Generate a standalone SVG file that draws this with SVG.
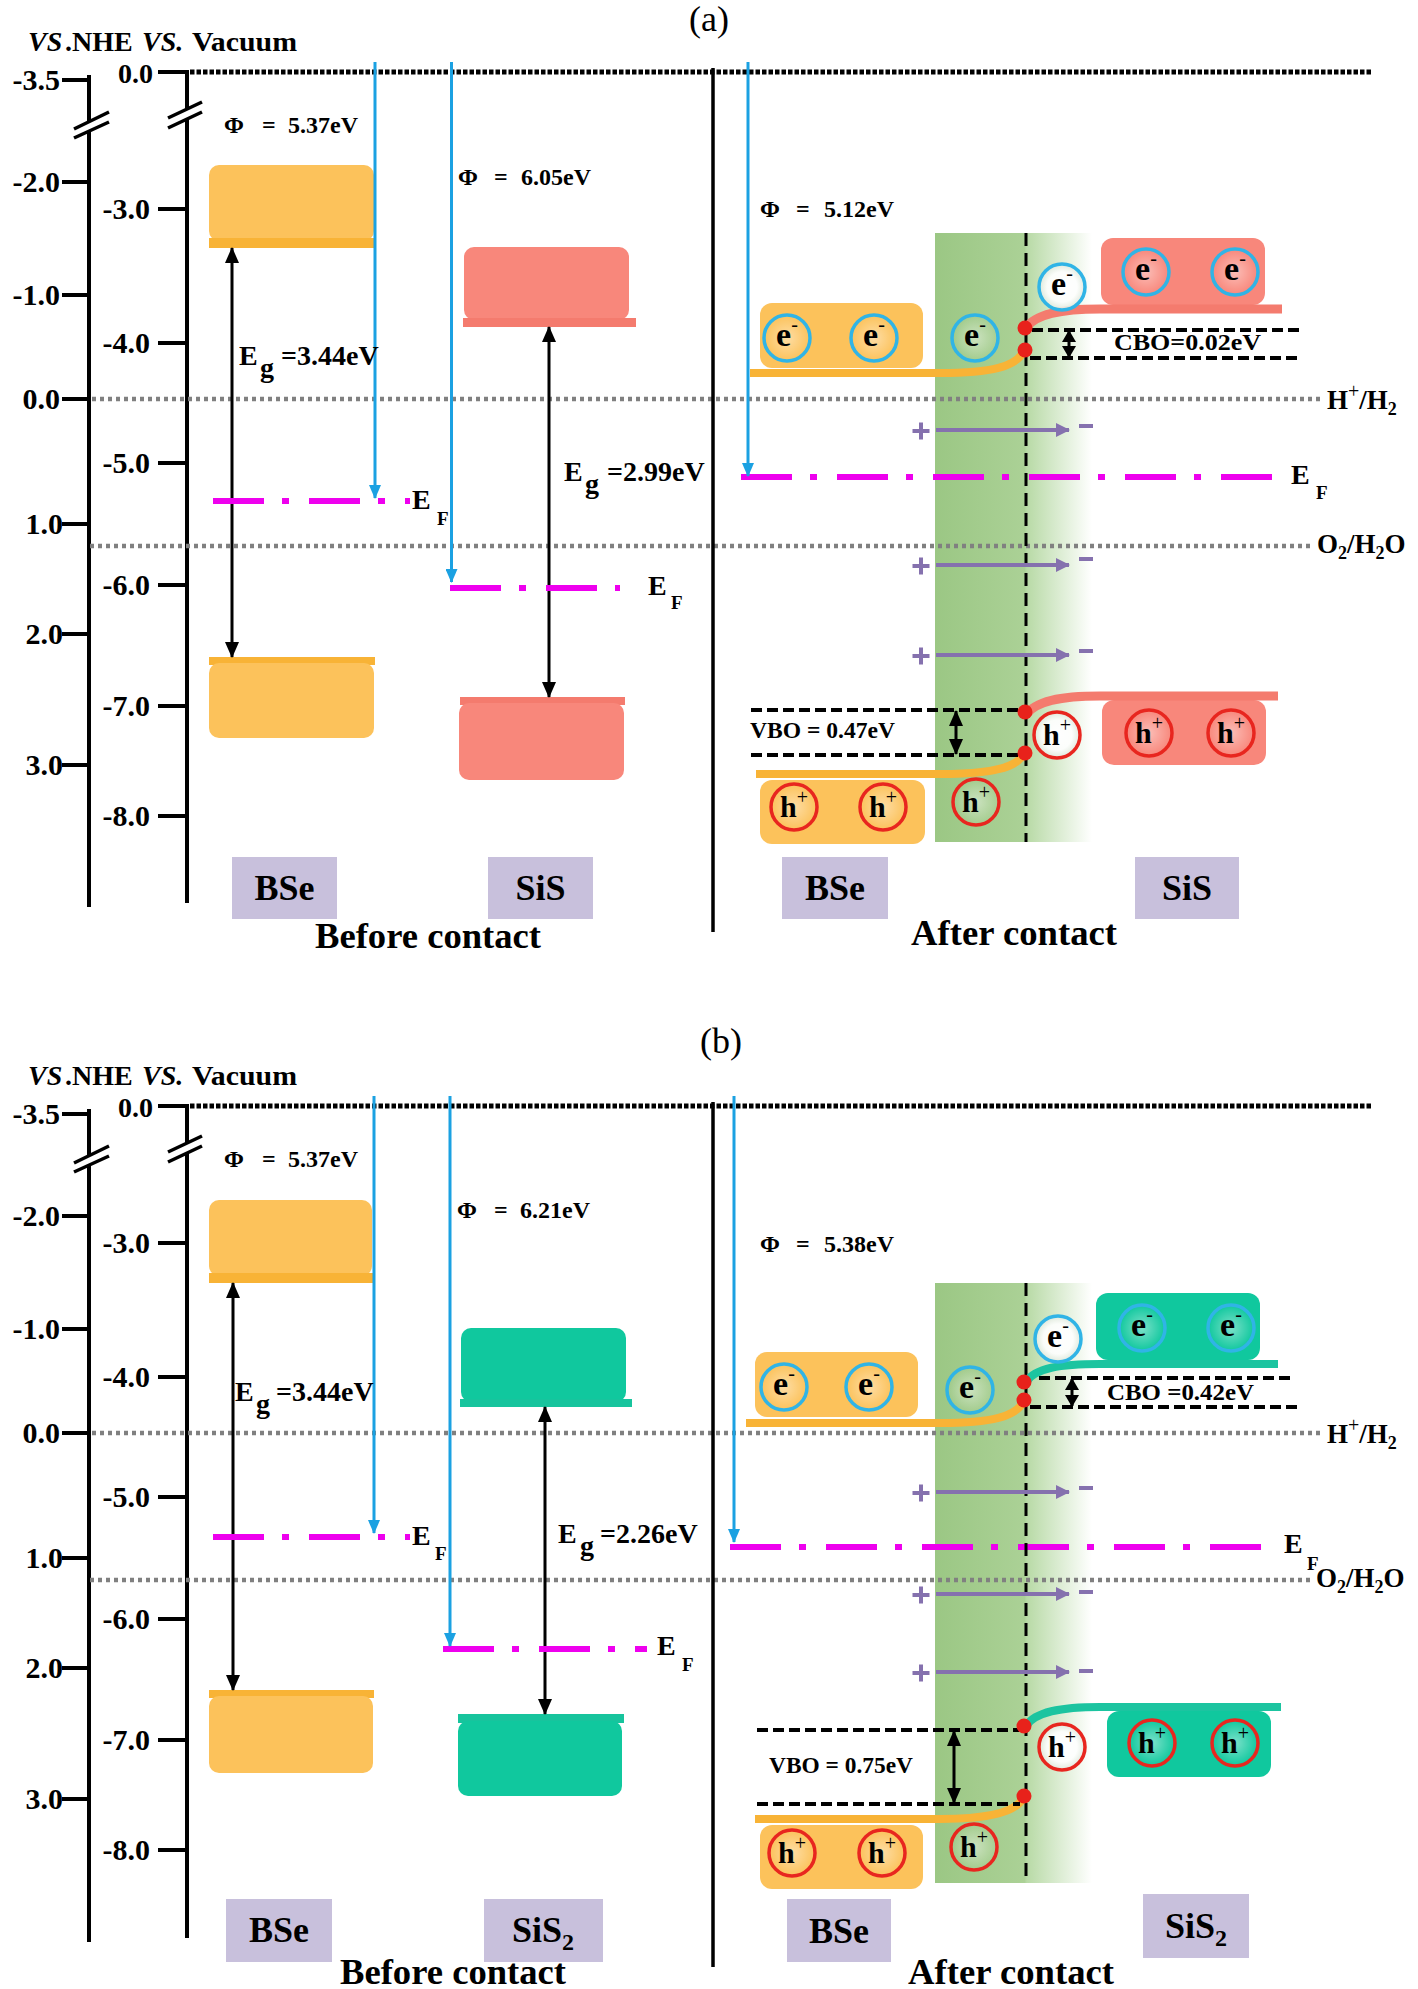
<svg xmlns="http://www.w3.org/2000/svg" width="1418" height="1989" viewBox="0 0 1418 1989">
<defs>
<style>
text{font-family:"Liberation Serif","Times New Roman",serif;font-weight:bold;fill:#000}
.ax{stroke:#000;stroke-width:4;fill:none}
.brk{stroke:#000;stroke-width:3.5}
.vac{stroke:#000;stroke-width:5;stroke-dasharray:4.5 2;fill:none}
.rdx{stroke:#808080;stroke-width:4.5;stroke-dasharray:4 4;fill:none}
.ef{stroke:#EE00EE;stroke-width:6;stroke-dasharray:51 18 7 20;fill:none}
.wf{stroke:#1BA1E2;stroke-width:3;fill:none;marker-end:url(#mBlue)}
.eg{stroke:#000;stroke-width:3;fill:none;marker-start:url(#mBlk);marker-end:url(#mBlk)}
.sm{stroke:#000;stroke-width:3;fill:none;marker-start:url(#mSm);marker-end:url(#mSm)}
.off{stroke:#000;stroke-width:4;stroke-dasharray:11 5;fill:none}
.ifc{stroke:#000;stroke-width:3;stroke-dasharray:13 7;fill:none}
.sep{stroke:#000;stroke-width:3.5;fill:none}
.fld{stroke:#8571AE;stroke-width:4;fill:none;marker-end:url(#mPur)}
.pm{stroke:#8571AE;stroke-width:4;fill:none}
.ob{fill:#FCC25B}.obar{fill:#F8B336}
.sb{fill:#F8877B}.sbar{fill:#F47B6E}
.tb{fill:#10C89E}.tbar{fill:#17C49D}
.oln{stroke:#F8B336;stroke-width:8;fill:none}
.sln{stroke:#F47B6E;stroke-width:9;fill:none}
.tln{stroke:#1CC4A0;stroke-width:8;fill:none}
.lab{fill:#C8C0DC}
.el{stroke:#30B4E6;stroke-width:3.5}
.ho{stroke:#E8261F;stroke-width:3.5}
.dot{fill:#E8221B}
.tk{font-size:30px;text-anchor:end}
.tk0{font-size:28px;text-anchor:end}
.hd{font-size:28px}
.it{font-style:italic}
.phi{font-size:24px}
.big{font-size:36px;text-anchor:middle}
.cap{font-size:35px}
.ct{font-size:34px;text-anchor:middle}
.ht{font-size:30px;text-anchor:middle}
.sup{font-size:20px;font-weight:normal}
.E{font-size:28px}
.sub{font-size:19px}
.offt{font-size:23px}
.rx{font-size:27px}
.pl{font-size:36px;font-weight:normal;text-anchor:middle}
</style>
<marker id="mBlk" viewBox="0 0 16 14" refX="15" refY="7" markerWidth="16" markerHeight="14" orient="auto-start-reverse" markerUnits="userSpaceOnUse"><path d="M0,0 L16,7 L0,14 Z" fill="#000"/></marker>
<marker id="mSm" viewBox="0 0 12 14" refX="11" refY="7" markerWidth="12" markerHeight="14" orient="auto-start-reverse" markerUnits="userSpaceOnUse"><path d="M0,0 L12,7 L0,14 Z" fill="#000"/></marker>
<marker id="mBlue" viewBox="0 0 14 12" refX="13" refY="6" markerWidth="14" markerHeight="12" orient="auto" markerUnits="userSpaceOnUse"><path d="M0,0 L14,6 L0,12 Z" fill="#1BA1E2"/></marker>
<marker id="mPur" viewBox="0 0 14 14" refX="13" refY="7" markerWidth="14" markerHeight="14" orient="auto" markerUnits="userSpaceOnUse"><path d="M0,0 L14,7 L0,14 Z" fill="#8571AE"/></marker>
<radialGradient id="gw"><stop offset="0" stop-color="#fff" stop-opacity="0.45"/><stop offset="1" stop-color="#fff" stop-opacity="0"/></radialGradient>
<radialGradient id="gs"><stop offset="0" stop-color="#fff" stop-opacity="1"/><stop offset="0.65" stop-color="#fff" stop-opacity="0.9"/><stop offset="1" stop-color="#dfe8dc" stop-opacity="0.9"/></radialGradient>
<linearGradient id="gbandA" gradientUnits="userSpaceOnUse" x1="935" y1="0" x2="1092" y2="0"><stop offset="0" stop-color="#9BC784"/><stop offset="0.57" stop-color="#ABD196"/><stop offset="0.585" stop-color="#B8DAA6"/><stop offset="1" stop-color="#FFFFFF"/></linearGradient>
</defs>
<rect width="1418" height="1989" fill="#fff"/>

<!-- ================= PANEL (a) ================= -->
<g id="a-after-bg">
<rect x="935" y="233" width="157" height="609" fill="url(#gbandA)"/>
</g>
<text class="pl" x="709" y="31">(a)</text>
<g id="a-scale">
<text class="hd it" x="28" y="51">VS</text><text class="hd" x="65" y="51">.NHE</text><text class="hd it" x="142" y="51">VS.</text><text class="hd" x="192" y="51" textLength="105" lengthAdjust="spacingAndGlyphs">Vacuum</text>
<line class="ax" x1="89" y1="75" x2="89" y2="907"/>
<path class="ax" d="M62,80H89M62,182H89M62,295H89M62,399H89M62,524H89M62,634H89M62,765H89"/>
<polygon points="72,130 110,112 110,122 72,140" fill="#fff"/>
<line class="brk" x1="74" y1="129" x2="109" y2="112"/>
<line class="brk" x1="74" y1="138" x2="109" y2="122"/>
<text class="tk" x="60" y="90">-3.5</text>
<text class="tk" x="60" y="192">-2.0</text>
<text class="tk" x="60" y="305">-1.0</text>
<text class="tk" x="60" y="409">0.0</text>
<text class="tk" x="63" y="534">1.0</text>
<text class="tk" x="63" y="644">2.0</text>
<text class="tk" x="63" y="775">3.0</text>
<line class="ax" x1="187" y1="70" x2="187" y2="903"/>
<path class="ax" d="M158,72H187M158,209H187M158,343H187M158,463H187M158,585H187M158,706H187M158,816H187"/>
<polygon points="166,119 203,101 203,111 166,129" fill="#fff"/>
<line class="brk" x1="168" y1="118" x2="202" y2="102"/>
<line class="brk" x1="168" y1="128" x2="202" y2="112"/>
<text class="tk0" x="153" y="83">0.0</text>
<text class="tk" x="150" y="219">-3.0</text>
<text class="tk" x="150" y="353">-4.0</text>
<text class="tk" x="150" y="473">-5.0</text>
<text class="tk" x="150" y="595">-6.0</text>
<text class="tk" x="150" y="716">-7.0</text>
<text class="tk" x="150" y="826">-8.0</text>
<line class="vac" x1="190" y1="72" x2="1373" y2="72"/>
<line class="rdx" x1="92" y1="399" x2="1320" y2="399"/>
<line class="rdx" x1="90" y1="546" x2="1314" y2="546"/>
<text class="rx" x="1327" y="409">H<tspan class="sup" font-size="18" dy="-11">+</tspan><tspan dy="11">/H</tspan><tspan font-size="18" dy="6">2</tspan></text>
<text class="rx" x="1317" y="553" font-size="28">O<tspan font-size="18" dy="6">2</tspan><tspan dy="-6">/H</tspan><tspan font-size="18" dy="6">2</tspan><tspan dy="-6">O</tspan></text>
<line class="sep" x1="713" y1="68" x2="713" y2="932"/>
</g>

<g id="a-bse-before">
<rect class="ob" x="209" y="165" width="165" height="76" rx="10"/>
<rect class="obar" x="209" y="238" width="166" height="10"/>
<rect class="obar" x="209" y="657" width="166" height="8"/>
<rect class="ob" x="209" y="663" width="165" height="75" rx="10"/>
<rect class="lab" x="232" y="857" width="105" height="62"/>
<text class="big" x="284.5" y="900">BSe</text>
</g>
<g id="a-sis-before">
<rect class="sb" x="464" y="247" width="165" height="73" rx="10"/>
<rect class="sbar" x="463" y="318" width="173" height="9"/>
<rect class="sbar" x="460" y="697" width="165" height="8"/>
<rect class="sb" x="459" y="703" width="165" height="77" rx="10"/>
<rect class="lab" x="488" y="857" width="105" height="62"/>
<text class="big" x="540.5" y="900">SiS</text>
</g>
<text class="cap" x="315" y="948" textLength="226" lengthAdjust="spacingAndGlyphs">Before contact</text>

<g id="a-bse-after">
<rect class="ob" x="760" y="303" width="163" height="65" rx="12"/>
<rect class="ob" x="760" y="780" width="165" height="64" rx="12"/>
<rect class="lab" x="782" y="857" width="106" height="62"/>
<text class="big" x="835" y="900">BSe</text>
</g>
<g id="a-sis-after">
<rect class="sb" x="1101" y="238" width="164" height="67" rx="12"/>
<rect class="sb" x="1102" y="700" width="164" height="65" rx="12"/>
<rect class="lab" x="1135" y="857" width="104" height="62"/>
<text class="big" x="1187" y="900">SiS</text>
</g>
<text class="cap" x="911" y="945" textLength="206" lengthAdjust="spacingAndGlyphs">After contact</text>

<g id="a-connectors">
<line class="eg" x1="232" y1="248" x2="232" y2="657"/>
<line class="eg" x1="549" y1="327" x2="549" y2="697"/>
<line class="ef" x1="213" y1="501" x2="410" y2="501"/>
<line class="ef" x1="450" y1="588" x2="620" y2="588"/>
<line class="ef" x1="741" y1="477" x2="1285" y2="477"/>
<line class="wf" x1="375" y1="62" x2="375" y2="498"/>
<line class="wf" x1="451.5" y1="62" x2="451.5" y2="582"/>
<line class="wf" x1="748" y1="62" x2="748" y2="476"/>
<line class="ifc" x1="1026" y1="233" x2="1026" y2="842"/>
<path class="oln" d="M750,373 L940,373 C990,373 1018,367 1024,350"/>
<path class="sln" d="M1026,328 C1035,314 1060,309 1100,309 L1282,309"/>
<path class="sln" d="M1026,715 C1035,701 1060,696 1100,696 L1278,696"/>
<path class="oln" d="M756,774 L940,774 C990,774 1018,768 1024,753"/>
<line class="off" x1="1032" y1="330" x2="1300" y2="330"/>
<line class="off" x1="1030" y1="358" x2="1300" y2="358"/>
<line class="sm" x1="1069" y1="331" x2="1069" y2="357"/>
<line class="off" x1="751" y1="710" x2="1020" y2="710"/>
<line class="off" x1="751" y1="755" x2="1020" y2="755"/>
<line class="eg" x1="956" y1="711" x2="956" y2="754"/>
<path class="pm" d="M912.5,431H929.5M921,422.5V439.5"/>
<line class="fld" x1="936" y1="430" x2="1069" y2="430"/>
<path class="pm" d="M1079,426H1093"/>
<path class="pm" d="M912.5,566H929.5M921,557.5V574.5"/>
<line class="fld" x1="936" y1="565" x2="1069" y2="565"/>
<path class="pm" d="M1079,559H1093"/>
<path class="pm" d="M912.5,656H929.5M921,647.5V664.5"/>
<line class="fld" x1="936" y1="655" x2="1069" y2="655"/>
<path class="pm" d="M1079,651H1093"/>
<circle class="dot" cx="1025" cy="328" r="7.5"/>
<circle class="dot" cx="1025" cy="350" r="7.5"/>
<circle class="dot" cx="1025" cy="712" r="7.5"/>
<circle class="dot" cx="1025" cy="753" r="7.5"/>
</g>

<g id="a-carriers">
<circle class="el" cx="787" cy="338" r="23" fill="url(#gw)"/><text class="ct" x="787" y="346">e<tspan class="sup" dy="-15">-</tspan></text>
<circle class="el" cx="874" cy="338" r="23" fill="url(#gw)"/><text class="ct" x="874" y="346">e<tspan class="sup" dy="-15">-</tspan></text>
<circle class="el" cx="975" cy="338" r="23" fill="url(#gw)"/><text class="ct" x="975" y="346">e<tspan class="sup" dy="-15">-</tspan></text>
<circle class="el" cx="1062" cy="287" r="23" fill="url(#gs)"/><text class="ct" x="1062" y="295">e<tspan class="sup" dy="-15">-</tspan></text>
<circle class="el" cx="1146" cy="272" r="23" fill="url(#gw)"/><text class="ct" x="1146" y="280">e<tspan class="sup" dy="-15">-</tspan></text>
<circle class="el" cx="1235" cy="272" r="23" fill="url(#gw)"/><text class="ct" x="1235" y="280">e<tspan class="sup" dy="-15">-</tspan></text>
<circle class="ho" cx="794" cy="807" r="23" fill="url(#gw)"/><text class="ht" x="794" y="817">h<tspan class="sup" dy="-13">+</tspan></text>
<circle class="ho" cx="883" cy="807" r="23" fill="url(#gw)"/><text class="ht" x="883" y="817">h<tspan class="sup" dy="-13">+</tspan></text>
<circle class="ho" cx="976" cy="802" r="23" fill="url(#gw)"/><text class="ht" x="976" y="812">h<tspan class="sup" dy="-13">+</tspan></text>
<circle class="ho" cx="1057" cy="735" r="23" fill="url(#gs)"/><text class="ht" x="1057" y="745">h<tspan class="sup" dy="-13">+</tspan></text>
<circle class="ho" cx="1149" cy="733" r="23" fill="url(#gw)"/><text class="ht" x="1149" y="743">h<tspan class="sup" dy="-13">+</tspan></text>
<circle class="ho" cx="1231" cy="733" r="23" fill="url(#gw)"/><text class="ht" x="1231" y="743">h<tspan class="sup" dy="-13">+</tspan></text>
</g>

<g id="a-labels">
<text class="phi" y="133"><tspan x="224">Φ</tspan><tspan x="262">=</tspan><tspan x="288">5.37eV</tspan></text>
<text class="phi" y="185"><tspan x="458">Φ</tspan><tspan x="494">=</tspan><tspan x="521">6.05eV</tspan></text>
<text class="phi" y="217"><tspan x="760">Φ</tspan><tspan x="796">=</tspan><tspan x="824">5.12eV</tspan></text>
<text class="E" x="239" y="365">E</text><text class="E" x="260" y="377" font-size="24">g</text><text class="E" x="281" y="365" font-size="27">=3.44eV</text>
<text class="E" x="564" y="481">E</text><text class="E" x="585" y="493" font-size="24">g</text><text class="E" x="607" y="481" font-size="27">=2.99eV</text>
<text class="E" x="412" y="509">E</text><text class="sub" x="437" y="525">F</text>
<text class="E" x="648" y="595">E</text><text class="sub" x="671" y="609">F</text>
<text class="E" x="1291" y="484">E</text><text class="sub" x="1316" y="499">F</text>
<text class="offt" x="1114" y="350" textLength="147" lengthAdjust="spacingAndGlyphs">CBO=0.02eV</text>
<text class="offt" x="750" y="738" textLength="145" lengthAdjust="spacingAndGlyphs">VBO = 0.47eV</text>
</g>

<!-- ================= PANEL (b) ================= -->
<g id="b-after-bg">
<rect x="935" y="1283" width="157" height="600" fill="url(#gbandA)"/>
</g>
<text class="pl" x="721" y="1053">(b)</text>
<g id="b-scale" transform="translate(0,1034)">
<text class="hd it" x="28" y="51">VS</text><text class="hd" x="65" y="51">.NHE</text><text class="hd it" x="142" y="51">VS.</text><text class="hd" x="192" y="51" textLength="105" lengthAdjust="spacingAndGlyphs">Vacuum</text>
<line class="ax" x1="89" y1="75" x2="89" y2="908"/>
<path class="ax" d="M62,80H89M62,182H89M62,295H89M62,399H89M62,524H89M62,634H89M62,765H89"/>
<polygon points="72,130 110,112 110,122 72,140" fill="#fff"/>
<line class="brk" x1="74" y1="129" x2="109" y2="112"/>
<line class="brk" x1="74" y1="138" x2="109" y2="122"/>
<text class="tk" x="60" y="90">-3.5</text>
<text class="tk" x="60" y="192">-2.0</text>
<text class="tk" x="60" y="305">-1.0</text>
<text class="tk" x="60" y="409">0.0</text>
<text class="tk" x="63" y="534">1.0</text>
<text class="tk" x="63" y="644">2.0</text>
<text class="tk" x="63" y="775">3.0</text>
<line class="ax" x1="187" y1="70" x2="187" y2="904"/>
<path class="ax" d="M158,72H187M158,209H187M158,343H187M158,463H187M158,585H187M158,706H187M158,816H187"/>
<polygon points="166,119 203,101 203,111 166,129" fill="#fff"/>
<line class="brk" x1="168" y1="118" x2="202" y2="102"/>
<line class="brk" x1="168" y1="128" x2="202" y2="112"/>
<text class="tk0" x="153" y="83">0.0</text>
<text class="tk" x="150" y="219">-3.0</text>
<text class="tk" x="150" y="353">-4.0</text>
<text class="tk" x="150" y="473">-5.0</text>
<text class="tk" x="150" y="595">-6.0</text>
<text class="tk" x="150" y="716">-7.0</text>
<text class="tk" x="150" y="826">-8.0</text>
<line class="vac" x1="190" y1="72" x2="1373" y2="72"/>
<line class="rdx" x1="92" y1="399" x2="1320" y2="399"/>
<line class="rdx" x1="90" y1="546" x2="1314" y2="546"/>
<text class="rx" x="1327" y="409">H<tspan class="sup" font-size="18" dy="-11">+</tspan><tspan dy="11">/H</tspan><tspan font-size="18" dy="6">2</tspan></text>
<text class="rx" x="1316" y="553" font-size="28">O<tspan font-size="18" dy="6">2</tspan><tspan dy="-6">/H</tspan><tspan font-size="18" dy="6">2</tspan><tspan dy="-6">O</tspan></text>
<line class="sep" x1="713" y1="68" x2="713" y2="933"/>
</g>

<g id="b-bse-before">
<rect class="ob" x="209" y="1200" width="163" height="76" rx="10"/>
<rect class="obar" x="209" y="1273" width="164" height="10"/>
<rect class="obar" x="209" y="1690" width="165" height="8"/>
<rect class="ob" x="209" y="1696" width="164" height="77" rx="10"/>
<rect class="lab" x="226" y="1899" width="106" height="63"/>
<text class="big" x="279" y="1942">BSe</text>
</g>
<g id="b-sis2-before">
<rect class="tb" x="461" y="1328" width="165" height="74" rx="10"/>
<rect class="tbar" x="460" y="1399" width="172" height="8"/>
<rect class="tbar" x="458" y="1714" width="166" height="9"/>
<rect class="tb" x="458" y="1721" width="164" height="75" rx="10"/>
<rect class="lab" x="484" y="1899" width="119" height="63"/>
<text class="big" x="543" y="1942">SiS<tspan font-size="24" dy="8">2</tspan></text>
</g>
<text class="cap" x="340" y="1984" textLength="226" lengthAdjust="spacingAndGlyphs">Before contact</text>

<g id="b-bse-after">
<rect class="ob" x="755" y="1352" width="163" height="65" rx="12"/>
<rect class="ob" x="760" y="1825" width="163" height="64" rx="12"/>
<rect class="lab" x="787" y="1899" width="104" height="63"/>
<text class="big" x="839" y="1943">BSe</text>
</g>
<g id="b-sis2-after">
<rect class="tb" x="1096" y="1293" width="164" height="67" rx="12"/>
<rect class="tb" x="1107" y="1711" width="164" height="66" rx="12"/>
<rect class="lab" x="1143" y="1894" width="106" height="64"/>
<text class="big" x="1196" y="1938">SiS<tspan font-size="24" dy="8">2</tspan></text>
</g>
<text class="cap" x="908" y="1984" textLength="206" lengthAdjust="spacingAndGlyphs">After contact</text>

<g id="b-connectors">
<line class="eg" x1="233" y1="1283" x2="233" y2="1690"/>
<line class="eg" x1="545" y1="1407" x2="545" y2="1714"/>
<line class="ef" x1="213" y1="1537" x2="410" y2="1537"/>
<line class="ef" x1="443" y1="1649" x2="647" y2="1649"/>
<line class="ef" x1="730" y1="1547" x2="1275" y2="1547"/>
<line class="wf" x1="374" y1="1096" x2="374" y2="1533"/>
<line class="wf" x1="450" y1="1096" x2="450" y2="1646"/>
<line class="wf" x1="734" y1="1096" x2="734" y2="1542"/>
<line class="ifc" x1="1026" y1="1283" x2="1026" y2="1883"/>
<path class="oln" d="M746,1423 L940,1423 C990,1423 1018,1417 1024,1400"/>
<path class="tln" d="M1026,1382 C1035,1368 1060,1364 1100,1364 L1278,1364"/>
<path class="tln" d="M1026,1726 C1035,1712 1060,1707 1100,1707 L1281,1707"/>
<path class="oln" d="M755,1819 L940,1819 C990,1819 1018,1812 1024,1796"/>
<line class="off" x1="1039" y1="1378" x2="1295" y2="1378"/>
<line class="off" x1="1030" y1="1407" x2="1301" y2="1407"/>
<line class="sm" x1="1072" y1="1379" x2="1072" y2="1406"/>
<line class="off" x1="757" y1="1730" x2="1020" y2="1730"/>
<line class="off" x1="757" y1="1804" x2="1020" y2="1804"/>
<line class="eg" x1="954" y1="1731" x2="954" y2="1803"/>
<path class="pm" d="M912.5,1493H929.5M921,1484.5V1501.5"/>
<line class="fld" x1="936" y1="1492" x2="1069" y2="1492"/>
<path class="pm" d="M1079,1488H1093"/>
<path class="pm" d="M912.5,1595H929.5M921,1586.5V1603.5"/>
<line class="fld" x1="936" y1="1594" x2="1069" y2="1594"/>
<path class="pm" d="M1079,1592H1093"/>
<path class="pm" d="M912.5,1673H929.5M921,1664.5V1681.5"/>
<line class="fld" x1="936" y1="1672" x2="1069" y2="1672"/>
<path class="pm" d="M1079,1671H1093"/>
<circle class="dot" cx="1024" cy="1382" r="7.5"/>
<circle class="dot" cx="1024" cy="1400" r="7.5"/>
<circle class="dot" cx="1024" cy="1726" r="7.5"/>
<circle class="dot" cx="1024" cy="1796" r="7.5"/>
</g>

<g id="b-carriers">
<circle class="el" cx="784" cy="1387" r="23" fill="url(#gw)"/><text class="ct" x="784" y="1395">e<tspan class="sup" dy="-15">-</tspan></text>
<circle class="el" cx="869" cy="1387" r="23" fill="url(#gw)"/><text class="ct" x="869" y="1395">e<tspan class="sup" dy="-15">-</tspan></text>
<circle class="el" cx="970" cy="1390" r="23" fill="url(#gw)"/><text class="ct" x="970" y="1398">e<tspan class="sup" dy="-15">-</tspan></text>
<circle class="el" cx="1058" cy="1339" r="23" fill="url(#gs)"/><text class="ct" x="1058" y="1347">e<tspan class="sup" dy="-15">-</tspan></text>
<circle class="el" cx="1142" cy="1328" r="23" fill="url(#gw)"/><text class="ct" x="1142" y="1336">e<tspan class="sup" dy="-15">-</tspan></text>
<circle class="el" cx="1231" cy="1328" r="23" fill="url(#gw)"/><text class="ct" x="1231" y="1336">e<tspan class="sup" dy="-15">-</tspan></text>
<circle class="ho" cx="792" cy="1853" r="23" fill="url(#gw)"/><text class="ht" x="792" y="1863">h<tspan class="sup" dy="-13">+</tspan></text>
<circle class="ho" cx="882" cy="1853" r="23" fill="url(#gw)"/><text class="ht" x="882" y="1863">h<tspan class="sup" dy="-13">+</tspan></text>
<circle class="ho" cx="974" cy="1847" r="23" fill="url(#gw)"/><text class="ht" x="974" y="1857">h<tspan class="sup" dy="-13">+</tspan></text>
<circle class="ho" cx="1062" cy="1747" r="23" fill="url(#gs)"/><text class="ht" x="1062" y="1757">h<tspan class="sup" dy="-13">+</tspan></text>
<circle class="ho" cx="1152" cy="1743" r="23" fill="url(#gw)"/><text class="ht" x="1152" y="1753">h<tspan class="sup" dy="-13">+</tspan></text>
<circle class="ho" cx="1235" cy="1743" r="23" fill="url(#gw)"/><text class="ht" x="1235" y="1753">h<tspan class="sup" dy="-13">+</tspan></text>
</g>

<g id="b-labels">
<text class="phi" y="1167"><tspan x="224">Φ</tspan><tspan x="262">=</tspan><tspan x="288">5.37eV</tspan></text>
<text class="phi" y="1218"><tspan x="457">Φ</tspan><tspan x="494">=</tspan><tspan x="520">6.21eV</tspan></text>
<text class="phi" y="1252"><tspan x="760">Φ</tspan><tspan x="796">=</tspan><tspan x="824">5.38eV</tspan></text>
<text class="E" x="235" y="1401">E</text><text class="E" x="256" y="1413" font-size="24">g</text><text class="E" x="276" y="1401" font-size="27">=3.44eV</text>
<text class="E" x="558" y="1543">E</text><text class="E" x="580" y="1555" font-size="24">g</text><text class="E" x="600" y="1543" font-size="27">=2.26eV</text>
<text class="E" x="412" y="1545">E</text><text class="sub" x="435" y="1560">F</text>
<text class="E" x="657" y="1655">E</text><text class="sub" x="682" y="1671">F</text>
<text class="E" x="1284" y="1553">E</text><text class="sub" x="1307" y="1570">F</text>
<text class="offt" x="1107" y="1400" textLength="147" lengthAdjust="spacingAndGlyphs">CBO =0.42eV</text>
<text class="offt" x="769" y="1773" textLength="144" lengthAdjust="spacingAndGlyphs">VBO = 0.75eV</text>
</g>
</svg>
